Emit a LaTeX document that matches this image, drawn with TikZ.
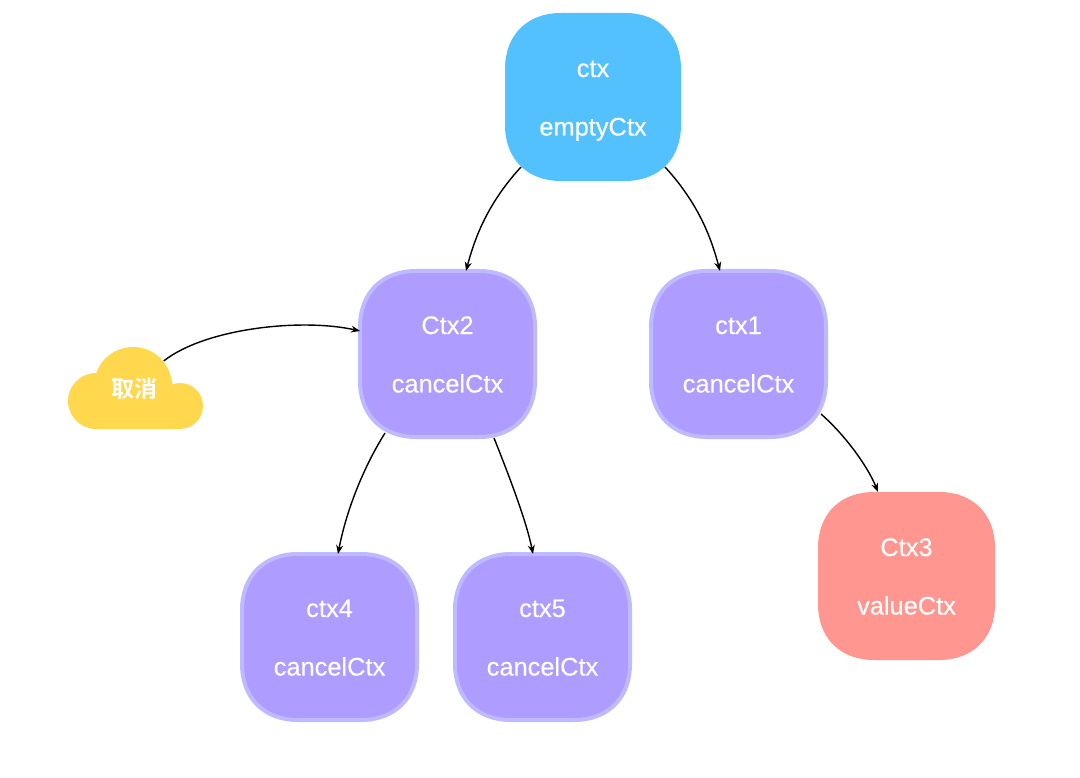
\documentclass[tikz,border=0pt]{standalone}
\usepackage{fontspec}
\setmainfont{Liberation Sans}
\newfontfamily\cjkfont{Noto Sans CJK SC}[BoldFont={* Bold}]
\usetikzlibrary{arrows.meta,calc,backgrounds}
\definecolor{blueBox}{HTML}{54C1FF}
\definecolor{purpleBox}{HTML}{AE9CFF}
\definecolor{purpleEdge}{HTML}{BFB9FF}
\definecolor{redBox}{HTML}{FF9690}
\definecolor{yellowBox}{HTML}{FFD84D}
\newcommand\twolines[2]{%
  \makebox[0pt]{\raisebox{20pt}[0pt][0pt]{#1}}%
  \makebox[0pt]{\raisebox{-38.5pt}[0pt][0pt]{#2}}}
\newcommand\squircle[2]{%
  \begin{scope}[on background layer]
  \path[#2]
    ($(#1.north west)+(56,0)$) -- ($(#1.north east)+(-56,0)$)
    .. controls ($(#1.north east)+(-22,0)$) and ($(#1.north east)+(0,22)$) .. ($(#1.north east)+(0,56)$)
    -- ($(#1.south east)+(0,-56)$)
    .. controls ($(#1.south east)+(0,-22)$) and ($(#1.south east)+(-22,0)$) .. ($(#1.south east)+(-56,0)$)
    -- ($(#1.south west)+(56,0)$)
    .. controls ($(#1.south west)+(22,0)$) and ($(#1.south west)+(0,-22)$) .. ($(#1.south west)+(0,-56)$)
    -- ($(#1.north west)+(0,56)$)
    .. controls ($(#1.north west)+(0,22)$) and ($(#1.north west)+(22,0)$) .. ($(#1.north west)+(56,0)$)
    -- cycle;
  \end{scope}}
\tikzset{
  x=1pt,y=-1pt,
  ctxbox/.style={rectangle,outer sep=0pt,inner sep=0pt,text=white,
    font=\fontsize{25.4}{30}\selectfont\addfontfeature{FakeBold=0.35}},
  bluebox/.style={ctxbox,minimum width=176pt,minimum height=168pt},
  redbox/.style={ctxbox,minimum width=177pt,minimum height=168pt},
  purplebox/.style={ctxbox,minimum width=175pt,minimum height=166pt},
  blueshape/.style={fill=blueBox},
  redshape/.style={fill=redBox},
  purpleshape/.style={fill=purpleBox,draw=purpleEdge,line width=4pt},
  conn/.style={draw=black,line width=1.4pt,-{Stealth[length=9pt,width=7pt]}},
}
\begin{document}
\begin{tikzpicture}
\useasboundingbox (0,0) rectangle (1080,778);
\node[bluebox] (ctx) at (593,97) {\twolines{ctx}{emptyCtx}};
\node[purplebox] (ctx2) at (447.5,354) {\twolines{Ctx2}{cancelCtx}};
\node[purplebox] (ctx1) at (738.5,354) {\twolines{ctx1}{cancelCtx}};
\node[purplebox] (ctx4) at (329.5,637) {\twolines{ctx4}{cancelCtx}};
\node[purplebox] (ctx5) at (542.5,637) {\twolines{ctx5}{cancelCtx}};
\node[redbox] (ctx3) at (906.5,576) {\twolines{Ctx3}{valueCtx}};
\squircle{ctx}{blueshape}
\squircle{ctx2}{purpleshape}
\squircle{ctx1}{purpleshape}
\squircle{ctx4}{purpleshape}
\squircle{ctx5}{purpleshape}
\squircle{ctx3}{redshape}
\fill[yellowBox] (96,401) circle (28);
\fill[yellowBox] (133,386) circle (39);
\fill[yellowBox] (180,406) circle (23);
\fill[yellowBox] (96,395) rectangle (180,429);
\node[text=white,font=\cjkfont\bfseries\fontsize{23}{26}\selectfont,inner sep=0pt] (cancel) at (134.5,389) {取消};
\draw[conn] ([shift={(16,-14)}]ctx.south west) .. controls +(-35,38) and +(8,-30) .. ([xshift=18.5]ctx2.north);
\draw[conn] ([shift={(-16,-14)}]ctx.south east) .. controls +(35,38) and +(-8,-30) .. ([xshift=-18.5]ctx1.north);
\draw[conn] ([shift={(6,-17)}]cancel.north east) .. controls +(42,-33) and +(-58,-13) .. (ctx2.west |- 0,331);
\draw[conn] ([shift={(25,-4)}]ctx2.south west) .. controls +(-25,40) and +(7,-37) .. ([xshift=8.5]ctx4.north);
\draw[conn] ([shift={(-41,1)}]ctx2.south east) .. controls +(18,45) and +(-6,-30) .. ([xshift=-9.5]ctx5.north);
\draw[conn] ([shift={(-5,-23)}]ctx1.south east) .. controls +(25,22) and +(-10,-25) .. ([xshift=-28.5]ctx3.north);
\end{tikzpicture}
\end{document}
